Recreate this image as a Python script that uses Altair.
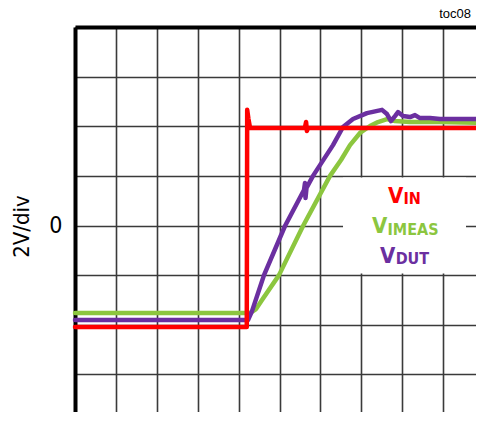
import altair as alt
import pandas as pd

# ---- data (time in divisions, voltage in V; 2V/div, 0 V at centre) ----
t_vin = [0, 4.20, 4.21, 4.24, 4.28, 5.62, 5.65, 5.67, 5.70, 10]
v_vin = [-4.09, -4.09, 4.66, 4.30, 3.93, 3.93, 4.17, 3.81, 3.93, 3.93]

t_vdut = [0, 4.230, 4.328, 4.621, 5.134, 5.599, 5.623, 5.636, 5.660, 5.819,
          6.308, 6.553, 6.797, 7.139, 7.506, 7.628, 7.726, 7.824, 7.897,
          8.020, 8.191, 8.313, 8.435, 8.680, 8.924, 10]
v_vdut = [-3.81, -3.81, -3.45, -2.00, -0.02, 1.43, 1.71, 1.11, 1.51, 2.00,
          3.24, 3.97, 4.29, 4.53, 4.66, 4.49, 4.21, 4.41, 4.57,
          4.41, 4.37, 4.45, 4.33, 4.33, 4.29, 4.29]

t_vimeas = [0, 4.279, 4.425, 4.572, 4.988, 5.575, 6.235, 6.504, 6.724, 6.968,
            7.213, 7.408, 7.628, 7.824, 8.191, 8.924, 10]
v_vimeas = [-3.53, -3.53, -3.37, -3.00, -2.00, -0.02, 2.00, 2.64, 3.24, 3.73,
            4.01, 4.17, 4.29, 4.21, 4.17, 4.17, 4.13]

x_ticks = list(range(0, 11))
y_ticks = list(range(-8, 10, 2))

# legend labels: main letter + subscript
leg_main = ["V", "V", "V"]
leg_sub = ["IN", "IMEAS", "DUT"]
leg_color = ["#ff0000", "#8cc63f", "#6b2fa0"]
leg_main_x = [7.653, 7.262, 7.457]
leg_main_y = [0.907, -0.302, -1.511]
leg_sub_x = [8.03, 7.64, 7.84]
leg_sub_y = [0.867, -0.383, -1.532]

box_x = [6.553]
box_x2 = [9.56]
box_y = [-1.93]
box_y2 = [1.93]

corner_label = ["toc08"]

FONT = "Liberation Sans Narrow, Arial Narrow, DejaVu Sans Condensed, Liberation Sans, Arial, sans-serif"

W, H = 409, 397

xs = alt.Scale(domain=[0, 10], nice=False, zero=False)
ys = alt.Scale(domain=[-8, 8], nice=False, zero=False)

grid_common = dict(grid=True, gridColor="#3a3a3a", gridWidth=1.6, gridOpacity=1,
                   ticks=False, domainColor="black", domainWidth=4)

x_axis = alt.Axis(orient="top", values=x_ticks, labels=False, title=None, **grid_common)
y_axis = alt.Axis(values=y_ticks, labelExpr="datum.value == 0 ? '0' : ''",
                  labelFont=FONT, labelFontSize=23, labelColor="black",
                  labelPadding=13, title="2V/div", titleFont=FONT, titleFontSize=22,
                  titleFontWeight="normal", titleColor="black", titleAngle=270,
                  titleAlign="center", titleBaseline="middle", titleX=-54, titleY=199,
                  **grid_common)

def line_df(t, v):
    return pd.DataFrame({"t": t, "v": v, "i": range(len(t))})

base_axes = alt.Chart(pd.DataFrame({"t": [0], "v": [0]})).mark_point(opacity=0).encode(
    x=alt.X("t:Q", scale=xs, axis=x_axis),
    y=alt.Y("v:Q", scale=ys, axis=y_axis),
)

box = alt.Chart(pd.DataFrame({"x": box_x, "x2": box_x2, "y": box_y, "y2": box_y2})).mark_rect(
    color="white").encode(
    x=alt.X("x:Q", scale=xs), x2="x2:Q",
    y=alt.Y("y:Q", scale=ys), y2="y2:Q",
)

def trace(t, v, color, width):
    return alt.Chart(line_df(t, v)).mark_line(color=color, strokeWidth=width,
                                              strokeJoin="round", strokeCap="round").encode(
        x=alt.X("t:Q", scale=xs),
        y=alt.Y("v:Q", scale=ys),
        order="i:Q",
    )

g = trace(t_vimeas, v_vimeas, "#8cc63f", 4.5)
p = trace(t_vdut, v_vdut, "#6b2fa0", 4.5)
r = trace(t_vin, v_vin, "#ff0000", 4.5)

leg_df = pd.DataFrame({"main": leg_main, "sub": leg_sub, "c": leg_color,
                       "mx": leg_main_x, "my": leg_main_y,
                       "sx": leg_sub_x, "sy": leg_sub_y})

main_txt = alt.Chart(leg_df).mark_text(align="left", baseline="alphabetic", font=FONT,
                                       fontSize=22, fontWeight="bold").encode(
    x=alt.X("mx:Q", scale=xs), y=alt.Y("my:Q", scale=ys), text="main:N",
    color=alt.Color("c:N", scale=None),
)
sub_txt = alt.Chart(leg_df).mark_text(align="left", baseline="alphabetic", font=FONT,
                                      fontSize=16, fontWeight="bold").encode(
    x=alt.X("sx:Q", scale=xs), y=alt.Y("sy:Q", scale=ys), text="sub:N",
    color=alt.Color("c:N", scale=None),
)

corner = alt.Chart(pd.DataFrame({"lab": corner_label})).mark_text(
    align="right", baseline="alphabetic", fontSize=13, color="black",
    font="Liberation Sans, Arial, sans-serif").encode(
    x=alt.value(W - 13), y=alt.value(-9), text="lab:N",
)

chart = alt.layer(base_axes, box, g, p, r, main_txt, sub_txt, corner).properties(
    width=W, height=H,
    autosize="none",
    padding={"left": 67, "top": 19, "right": -8, "bottom": -12},
).configure_view(stroke=None).configure(background="white")

chart.save("out.html", embed_options={"renderer": "svg", "actions": False})
